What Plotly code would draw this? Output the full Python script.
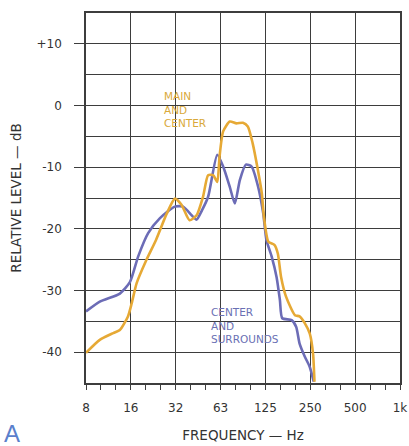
import math
import plotly.graph_objects as go

# ---- data ----
freq_main = [8, 9.9, 12.2, 13.5, 15.3, 16.2, 17.5, 20.3, 23.6, 27.9, 31.6, 35, 39.6, 44.2, 48.8,
             52.8, 57, 60.8, 63, 66.6, 73.8, 81.7, 90.4, 97.5, 105, 114, 121, 125, 134, 147,
             155, 163, 176, 202, 217, 235, 254, 267, 273]
db_main = [-40.1, -38.0, -36.9, -36.4, -34.2, -32.1, -28.8, -25.1, -21.8, -17.5, -15.1, -16.1, -18.6,
           -17.8, -14.8, -11.3, -11.3, -12.4, -8.3, -4.2, -2.6, -2.9, -2.8, -3.4, -6.1, -10.5, -14.2,
           -18.0, -22.1, -22.6, -24.0, -27.8, -31.0, -34.0, -34.2, -35.3, -37.0, -40.2, -44.8]

freq_surr = [8, 9.9, 13.5, 15.8, 17.9, 20.9, 25, 31.6, 35.9, 40.9, 44.2, 48, 52.8, 60.8, 66.6,
             73.8, 79.8, 86.2, 94.6, 103.4, 114.4, 123.7, 130, 141, 152, 160, 166, 192, 206,
             217, 235, 254, 270]
db_surr = [-33.4, -31.8, -30.5, -28.6, -24.5, -20.7, -18.3, -16.4, -16.4, -17.8, -18.5, -17.0,
           -14.8, -8.0, -9.9, -13.2, -15.9, -12.1, -9.6, -9.9, -13.2, -17.5, -21.8, -24.5, -27.8,
           -31.5, -34.5, -34.8, -35.9, -38.6, -40.7, -42.4, -44.8]

x_tickvals = [8, 16, 32, 64, 128, 256, 512, 1024]
x_ticktext = ["8", "16", "32", "63", "125", "250", "500", "1k"]
x_minor = [8 * 2 ** (k / 3) for k in range(22) if k % 3 != 0]
y_tickvals = [-40, -30, -20, -10, 0, 10]
y_ticktext = ["-40", "-30", "-20", "-10", "0", "+10"]
y_minor = [-35, -25, -15, -5, 5]

GRID = "#3d3d3d"
FONT = "DejaVu Sans"
GOLD = "#e6a935"
BLUE = "#6c6cb6"

fig = go.Figure()
fig.add_trace(go.Scatter(x=freq_surr, y=db_surr, mode="lines",
                         line=dict(color=BLUE, width=2.6, shape="spline", smoothing=0.6),
                         showlegend=False, hoverinfo="skip"))
fig.add_trace(go.Scatter(x=freq_main, y=db_main, mode="lines",
                         line=dict(color=GOLD, width=2.6, shape="spline", smoothing=0.6),
                         showlegend=False, hoverinfo="skip"))

annos = [
    dict(x=math.log10(26.0), y=-0.6, xref="x", yref="y", text="MAIN<br>AND<br>CENTER",
         showarrow=False, xanchor="left", yanchor="middle", align="left",
         font=dict(family=FONT, size=10.5, color="#d9a93a")),
    dict(x=math.log10(53.2), y=-35.6, xref="x", yref="y", text="CENTER<br>AND<br>SURROUNDS",
         showarrow=False, xanchor="left", yanchor="middle", align="left",
         font=dict(family=FONT, size=10.5, color="#6a70b4")),
    dict(x=-0.268, y=-0.178, xref="paper", yref="paper", text="A", showarrow=False,
         xanchor="left", yanchor="bottom",
         font=dict(family="Liberation Sans", size=24, color="#5a80cc")),
]

fig.update_layout(
    width=409, height=446,
    margin=dict(l=86, r=9, t=13, b=63, autoexpand=False),
    paper_bgcolor="white", plot_bgcolor="white",
    annotations=annos,
    font=dict(family=FONT, size=12, color="#333333"),
)
fig.update_xaxes(
    type="log", range=[math.log10(8), math.log10(1024)],
    tickvals=x_tickvals, ticktext=x_ticktext,
    showgrid=True, gridcolor=GRID, gridwidth=1.2,
    showline=True, linecolor=GRID, linewidth=1.5, mirror=True,
    ticks="outside", ticklen=5, tickcolor=GRID, tickwidth=1.2,
    ticklabelstandoff=8,
    minor=dict(tickvals=x_minor, ticks="outside", ticklen=5, tickcolor=GRID, tickwidth=1.2,
               showgrid=False),
    title=dict(text="FREQUENCY — Hz", font=dict(family=FONT, size=13.5, color="#333333"),
               standoff=16),
    zeroline=False, automargin=False,
)
fig.update_yaxes(
    range=[-45, 15],
    tickvals=y_tickvals, ticktext=y_ticktext,
    showgrid=True, gridcolor=GRID, gridwidth=1.2,
    showline=True, linecolor=GRID, linewidth=1.5, mirror=True,
    ticks="outside", ticklen=10, tickcolor=GRID, tickwidth=1.2,
    ticklabelstandoff=10,
    minor=dict(tickvals=y_minor, showgrid=True, gridcolor=GRID, gridwidth=1.2, ticks=""),
    title=dict(text="RELATIVE LEVEL — dB", font=dict(family=FONT, size=13.5, color="#333333"),
               standoff=12),
    zeroline=False, automargin=False,
)

fig.write_html("out.html", config={"displayModeBar": False},
               post_script="document.body.style.margin='0';")
